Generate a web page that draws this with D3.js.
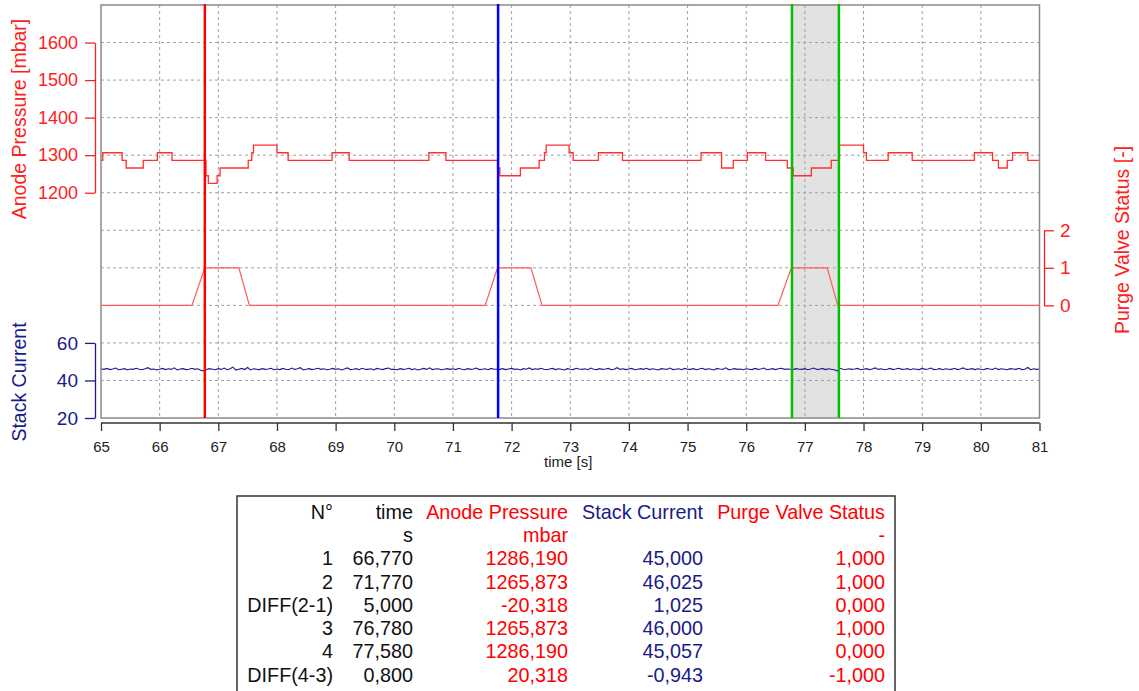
<!DOCTYPE html>
<html>

<head>
    <title>Purge Cursor Chart</title>
    <script src="https://d3js.org/d3.v7.min.js"></script>
    <style>
        body { margin: 0; background: #fff; }
        svg { font-family: "Liberation Sans", Arial, sans-serif; }
    </style>
</head>

<body>
    <script>
        // --- data ---
        var timeTicks = [65, 66, 67, 68, 69, 70, 71, 72, 73, 74, 75, 76, 77, 78, 79, 80, 81];

        // anode pressure (mbar), step signal
        var pressureTime = [65.00, 65.03, 65.36, 65.43, 65.72, 65.96, 66.21, 66.79, 66.83, 66.98, 67.03, 67.51, 67.57, 67.60,
            68.00, 68.19, 68.94, 69.23, 70.59, 70.88, 71.76, 71.80, 72.15, 72.47, 72.56, 72.59, 72.98, 73.05, 73.48, 73.89,
            75.23, 75.58, 75.78, 76.02, 76.33, 76.70, 76.80, 77.11, 77.45, 77.59, 78.00, 78.05, 78.42, 78.83, 79.89, 80.20,
            80.30, 80.45, 80.54, 80.80, 81.00];
        var pressureValue = [1286.2, 1306.5, 1286.2, 1265.9, 1286.2, 1306.5, 1286.2, 1245.2, 1224.9, 1245.2, 1265.9, 1286.2, 1306.5, 1326.8,
            1306.5, 1286.2, 1306.5, 1286.2, 1306.5, 1286.2, 1265.9, 1245.2, 1265.9, 1286.2, 1306.5, 1326.8, 1306.5, 1286.2, 1306.5, 1286.2,
            1306.5, 1265.9, 1286.2, 1306.5, 1286.2, 1265.9, 1245.2, 1265.9, 1286.2, 1326.8, 1306.5, 1286.2, 1306.5, 1286.2, 1306.5, 1286.2,
            1265.9, 1286.2, 1306.5, 1286.2, 1286.2];

        // purge valve status (-)
        var purgeTime = [65, 66.55, 66.77, 67.35, 67.53, 71.55, 71.76, 72.33, 72.52, 76.54, 76.77, 77.38, 77.56, 81];
        var purgeValue = [0, 0, 1, 1, 0, 0, 1, 1, 0, 0, 1, 1, 0, 0];

        // stack current, sampled every 0.05 s from 65 s
        var currentStart = 65;
        var currentStep = 0.05;
        var currentValue = [
            46.2, 45.9, 46.4, 45.8, 46.1, 46.6, 45.7, 46.0, 46.3, 45.6, 46.1, 45.9, 46.5, 46.0, 45.7, 46.2, 46.8, 45.9, 46.1, 45.6,
            46.0, 46.4, 45.8, 46.2, 45.9, 46.7, 45.6, 46.1, 46.3, 45.8, 46.0, 46.5, 45.9, 46.2, 45.4, 45.1, 45.8, 46.3, 46.0, 45.7,
            46.3, 45.9, 46.6, 45.7, 46.2, 47.1, 45.5, 46.0, 46.4, 45.8, 46.9, 45.6, 46.2, 46.0, 45.8, 46.3, 45.9, 46.1, 46.5, 45.7,
            46.1, 45.8, 46.4, 46.0, 45.7, 46.6, 45.9, 46.2, 46.8, 45.6, 46.0, 46.3, 45.8, 46.1, 46.5, 45.9, 46.2, 45.7, 46.0, 46.4,
            45.9, 46.2, 45.6, 46.1, 46.7, 45.8, 46.0, 46.3, 45.7, 46.5, 46.0, 45.9, 46.2, 45.6, 46.4, 46.1, 45.8, 46.3, 46.6, 45.9,
            46.0, 45.7, 46.3, 45.9, 46.1, 46.5, 45.8, 46.2, 45.6, 46.0, 46.4, 45.9, 46.7, 45.8, 46.1, 46.2, 45.7, 46.0, 46.3, 45.9,
            46.2, 45.8, 46.5, 46.0, 45.7, 46.3, 45.9, 46.1, 46.6, 45.8, 46.0, 46.2, 45.7, 46.4, 46.0, 46.0, 45.9, 46.3, 45.8, 46.1,
            46.4, 45.9, 46.1, 45.6, 46.3, 46.0, 46.7, 45.8, 46.2, 45.9, 46.5, 46.0, 45.7, 46.1, 46.4, 45.8, 46.2, 46.0, 45.6, 46.3,
            46.0, 45.8, 46.5, 46.1, 45.9, 46.2, 45.7, 46.6, 46.0, 45.8, 46.3, 45.9, 46.1, 46.4, 45.7, 46.0, 46.8, 45.9, 46.2, 45.8,
            46.1, 46.4, 45.7, 46.0, 46.3, 45.9, 46.5, 45.8, 46.2, 46.0, 45.6, 46.3, 46.1, 45.9, 46.6, 45.8, 46.0, 46.2, 45.7, 46.4,
            46.0, 45.9, 46.3, 45.7, 46.1, 46.5, 45.8, 46.2, 46.0, 45.6, 46.4, 46.1, 45.9, 46.7, 45.8, 46.0, 46.3, 45.9, 46.1, 45.7,
            46.2, 46.0, 45.8, 46.4, 45.9, 46.1, 46.6, 45.7, 46.0, 46.3, 45.8, 46.2, 46.5, 45.9, 46.1, 46.0, 45.8, 46.3, 46.0, 45.9,
            46.3, 45.7, 46.1, 46.6, 45.9, 46.0, 46.4, 45.8, 46.2, 46.0, 45.7, 45.1, 46.5, 46.0, 45.8, 46.2, 45.9, 46.1, 46.4, 45.7,
            46.0, 46.3, 45.8, 46.1, 46.7, 45.9, 46.2, 45.7, 46.0, 46.4, 45.8, 46.1, 46.5, 45.9, 46.0, 46.3, 45.7, 46.2, 46.0, 45.8,
            46.4, 45.9, 46.1, 46.6, 45.8, 46.0, 46.3, 45.7, 46.2, 46.0, 45.9, 46.5, 45.8, 46.1, 46.7, 45.9, 46.0, 46.3, 45.8, 46.2,
            46.0, 45.7, 46.4, 46.1, 45.9, 46.6, 45.8, 46.2, 46.0, 45.7, 46.3, 46.1, 45.9, 46.5, 45.8, 46.0, 46.9, 45.7, 46.2, 45.9,
            46.1];

        // cursors (s)
        var cursorTimes = [66.77, 71.77, 76.78, 77.58];
        var cursorColors = ['#ff0000', '#0000ff', '#00c000', '#00c000'];

        // cursor table
        var tableHeader = ['N°', 'time', 'Anode Pressure', 'Stack Current', 'Purge Valve Status'];
        var tableUnits = ['', 's', 'mbar', '', '-'];
        var tableRows = [
            ['1', '66,770', '1286,190', '45,000', '1,000'],
            ['2', '71,770', '1265,873', '46,025', '1,000'],
            ['DIFF(2-1)', '5,000', '-20,318', '1,025', '0,000'],
            ['3', '76,780', '1265,873', '46,000', '1,000'],
            ['4', '77,580', '1286,190', '45,057', '0,000'],
            ['DIFF(4-3)', '0,800', '20,318', '-0,943', '-1,000']
        ];

        // --- drawing ---
        var RED = '#ff2020', NAVY = '#1a1a8a';
        var width = 1139, height = 691;
        var plotLeft = 101, plotRight = 1039.5, plotTop = 5, plotBottom = 418;

        var svg = d3.select('body').append('svg')
            .attr('width', width)
            .attr('height', height);

        var x = d3.scaleLinear().domain([65, 81]).range([plotLeft, plotRight]);
        // 11 horizontal grid bands shared by the three stacked axes
        var gridY = d3.scaleLinear().domain([0, 11]).range([plotBottom, plotTop]);
        var yPressure = d3.scaleLinear().domain([1200, 1600]).range([gridY(6), gridY(10)]);
        var yPurge = d3.scaleLinear().domain([0, 2]).range([gridY(3), gridY(5)]);
        var yCurrent = d3.scaleLinear().domain([20, 60]).range([gridY(0), gridY(2)]);

        // shaded cursor band
        svg.append('rect')
            .attr('x', x(cursorTimes[2]))
            .attr('y', plotTop)
            .attr('width', x(cursorTimes[3]) - x(cursorTimes[2]))
            .attr('height', plotBottom - plotTop)
            .style('fill', '#e2e2e2');

        // grid
        svg.append('g').selectAll('line')
            .data(d3.range(1, 11))
            .join('line')
            .attr('x1', plotLeft).attr('x2', plotRight)
            .attr('y1', d => gridY(d)).attr('y2', d => gridY(d))
            .style('stroke', '#a0a0a0').style('stroke-dasharray', '3,3');
        svg.append('g').selectAll('line')
            .data(timeTicks.slice(1, -1))
            .join('line')
            .attr('y1', plotTop).attr('y2', plotBottom)
            .attr('x1', d => x(d)).attr('x2', d => x(d))
            .style('stroke', '#a0a0a0').style('stroke-dasharray', '3,3');

        // traces
        var pressureLine = d3.line()
            .x(d => x(d[0])).y(d => yPressure(d[1]))
            .curve(d3.curveStepAfter);
        svg.append('path')
            .datum(d3.zip(pressureTime, pressureValue))
            .attr('d', pressureLine)
            .style('fill', 'none').style('stroke', '#ff3030').style('stroke-width', 1.3);

        var purgeLine = d3.line().x(d => x(d[0])).y(d => yPurge(d[1]));
        svg.append('path')
            .datum(d3.zip(purgeTime, purgeValue))
            .attr('d', purgeLine)
            .style('fill', 'none').style('stroke', '#ff5a5a').style('stroke-width', 1.2);

        var currentLine = d3.line()
            .x((d, i) => x(currentStart + i * currentStep))
            .y(d => yCurrent(d));
        svg.append('path')
            .datum(currentValue)
            .attr('d', currentLine)
            .style('fill', 'none').style('stroke', NAVY).style('stroke-width', 1.1);

        // frame
        svg.append('rect')
            .attr('x', plotLeft).attr('y', plotTop)
            .attr('width', plotRight - plotLeft).attr('height', plotBottom - plotTop)
            .style('fill', 'none').style('stroke', '#8a8a8a').style('stroke-width', 1.5);

        // cursors
        svg.append('g').selectAll('line')
            .data(cursorTimes)
            .join('line')
            .attr('x1', d => x(d)).attr('x2', d => x(d))
            .attr('y1', plotTop - 1).attr('y2', plotBottom)
            .style('stroke', (d, i) => cursorColors[i])
            .style('stroke-width', 2.5);

        function styleAxis(g, color, size) {
            g.attr('font-family', null).attr('font-size', null);
            g.selectAll('text').style('font-size', size).style('fill', color);
            g.selectAll('line, path').style('stroke', color).style('stroke-width', 1.3);
        }

        // x axis
        var xAxis = svg.append('g')
            .attr('transform', 'translate(0,423)')
            .call(d3.axisBottom(x).tickValues(timeTicks).tickFormat(d3.format('d'))
                .tickSize(8).tickSizeOuter(0).tickPadding(10));
        styleAxis(xAxis, '#222', '15px');
        xAxis.selectAll('line, path').style('stroke', '#333');
        xAxis.select('.domain').attr('d', 'M' + plotLeft + ',0H' + plotRight);

        svg.append('text')
            .attr('x', (plotLeft + plotRight) / 2 - 2)
            .attr('y', 467)
            .attr('text-anchor', 'middle')
            .style('font-size', '15px')
            .style('fill', '#222')
            .text('time [s]');

        var pAxis = svg.append('g')
            .attr('transform', 'translate(95,0)')
            .call(d3.axisLeft(yPressure).tickValues([1200, 1300, 1400, 1500, 1600]).tickFormat(d3.format('d'))
                .tickSize(10).tickSizeOuter(0).tickPadding(7));
        styleAxis(pAxis, RED, '18px');

        var cAxis = svg.append('g')
            .attr('transform', 'translate(95,0)')
            .call(d3.axisLeft(yCurrent).tickValues([20, 40, 60]).tickFormat(d3.format('d'))
                .tickSize(10).tickSizeOuter(0).tickPadding(7));
        styleAxis(cAxis, NAVY, '19px');

        var vAxis = svg.append('g')
            .attr('transform', 'translate(1044,0)')
            .call(d3.axisRight(yPurge).tickValues([0, 1, 2]).tickFormat(d3.format('d'))
                .tickSize(10).tickSizeOuter(0).tickPadding(6));
        styleAxis(vAxis, RED, '19px');

        // axis titles
        function axisTitle(tx, ty, label, color) {
            svg.append('text')
                .attr('transform', 'translate(' + tx + ',' + ty + ') rotate(-90)')
                .attr('text-anchor', 'middle')
                .attr('dy', '0.35em')
                .style('font-size', '19.5px')
                .style('fill', color)
                .text(label);
        }
        axisTitle(19, 119, 'Anode Pressure [mbar]', RED);
        axisTitle(19, 382, 'Stack Current', NAVY);
        axisTitle(1122, 240, 'Purge Valve Status [-]', RED);

        // cursor table
        var tableLeft = 237, tableTop = 496, tableRight = 895;
        var colRight = [333, 413, 568, 703, 885];
        var colColor = ['#111', '#111', '#ff0000', NAVY, '#ff0000'];
        var rowTop = 512, rowStep = 23.25;

        svg.append('rect')
            .attr('x', tableLeft).attr('y', tableTop)
            .attr('width', tableRight - tableLeft).attr('height', height - tableTop + 10)
            .style('fill', 'none').style('stroke', '#333').style('stroke-width', 1.5);

        var allRows = [tableHeader, tableUnits].concat(tableRows);
        allRows.forEach(function (row, r) {
            row.forEach(function (cell, c) {
                svg.append('text')
                    .attr('x', colRight[c])
                    .attr('y', rowTop + r * rowStep)
                    .attr('dy', '0.35em')
                    .attr('text-anchor', 'end')
                    .style('font-size', '19.8px')
                    .style('fill', colColor[c])
                    .text(cell);
            });
        });
    </script>
</body>

</html>
